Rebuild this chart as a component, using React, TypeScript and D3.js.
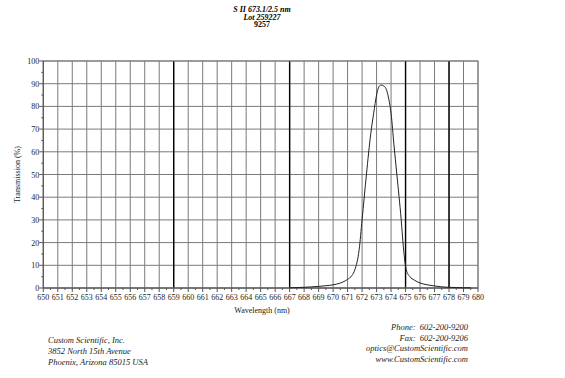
import React from "react";
import * as d3 from "d3";

const titleLines = ["S II 673.1/2.5 nm", "Lot 259227", "9257"];
const wavelengths = [667.0, 667.5, 668.0, 668.5, 669.0, 669.5, 670.0, 670.5, 671.0, 671.3, 671.5, 671.8, 672.0, 672.3, 672.6, 672.8, 673.0, 673.15, 673.3, 673.5, 673.7, 673.85, 674.0, 674.2, 674.4, 674.7, 674.85, 675.05, 675.3, 675.6, 676.0, 676.5, 677.0, 677.5, 678.0, 678.5, 679.0, 679.5];
const transmission = [0.1, 0.2, 0.3, 0.5, 0.7, 1.0, 1.4, 2.2, 3.8, 5.5, 8, 17, 30, 50, 68, 77, 85, 88.5, 89.4, 89, 87, 83, 77, 63, 50, 30, 18, 8, 5, 3.5, 2.2, 1.4, 0.9, 0.5, 0.3, 0.2, 0.1, 0.1];
const xTicks = d3.range(650, 681, 1);
const yTicks = d3.range(0, 101, 10);
const darkLines = [659, 667, 675, 678];
const footerLeft = ["Custom Scientific, Inc.", "3852 North 15th Avenue", "Phoenix, Arizona 85015 USA"];
const footerRight = ["Phone:  602-200-9200", "Fax:  602-200-9206", "optics@CustomScientific.com", "www.CustomScientific.com"];

export default function App() {
  const left = 43.3, right = 478, top = 61, bottom = 288;
  const x = d3.scaleLinear().domain([650, 680]).range([left, right]);
  const y = d3.scaleLinear().domain([0, 100]).range([bottom, top]);
  const pts = wavelengths.map((w, i) => [w, transmission[i]] as [number, number]);
  const line = d3.line<[number, number]>().x(d => x(d[0])).y(d => y(d[1])).curve(d3.curveMonotoneX);
  const font = "'Liberation Serif', 'Times New Roman', serif";
  const minorX = d3.range(650.5, 680, 1);
  const minorY = d3.range(5, 100, 10);
  return (
    <svg width={565} height={378} style={{ position: "absolute", left: 0, top: 0, background: "#fff" }} fontFamily={font}>
      <rect x={0} y={0} width={565} height={378} fill="#fff" />
      {titleLines.map((t, i) => (
        <text key={t} x={262} y={12 + i * 7.5} textAnchor="middle" fontSize={8} fontWeight="bold" fontStyle={i < 2 ? "italic" : "normal"}>{t}</text>
      ))}
      {xTicks.map(t => (
        <line key={"gx" + t} x1={x(t)} x2={x(t)} y1={top} y2={bottom} stroke="#7a7a7a" strokeWidth={1} />
      ))}
      {yTicks.map(t => (
        <line key={"gy" + t} x1={left} x2={right} y1={y(t)} y2={y(t)} stroke="#7a7a7a" strokeWidth={1} />
      ))}
      {darkLines.map(t => (
        <line key={"d" + t} x1={x(t)} x2={x(t)} y1={top} y2={bottom} stroke="#000" strokeWidth={1.4} />
      ))}
      <rect x={left} y={top} width={right - left} height={bottom - top} fill="none" stroke="#7a7a7a" />
      <line x1={left} x2={right} y1={bottom} y2={bottom} stroke="#555" />
      <line x1={left} x2={left} y1={top} y2={bottom} stroke="#555" />
      {xTicks.map(t => (
        <line key={"tx" + t} x1={x(t)} x2={x(t)} y1={bottom} y2={bottom + 4} stroke="#555" />
      ))}
      {minorX.map(t => (
        <line key={"mx" + t} x1={x(t)} x2={x(t)} y1={bottom} y2={bottom + 2} stroke="#555" />
      ))}
      {yTicks.map(t => (
        <line key={"ty" + t} x1={left - 4} x2={left} y1={y(t)} y2={y(t)} stroke="#555" />
      ))}
      {minorY.map(t => (
        <line key={"my" + t} x1={left - 2} x2={left} y1={y(t)} y2={y(t)} stroke="#555" />
      ))}
      <path d={line(pts) || ""} fill="none" stroke="#222" strokeWidth={1} />
      {xTicks.map(t => (
        <text key={"lx" + t} x={x(t)} y={bottom + 12} textAnchor="middle" fontSize={8} fill="#222">{t}</text>
      ))}
      {yTicks.map(t => (
        <text key={"ly" + t} x={left - 4} y={y(t) + 3} textAnchor="end" fontSize={8} fill="#222">{t}</text>
      ))}
      <text x={262} y={313} textAnchor="middle" fontSize={8} fill="#222">Wavelength (nm)</text>
      <text transform={`translate(20,${(top + bottom) / 2}) rotate(-90)`} textAnchor="middle" fontSize={8} fill="#222">Transmission (%)</text>
      {footerLeft.map((t, i) => (
        <text key={t} x={48} y={343 + i * 11} fontSize={8.5} fontStyle="italic" fill="#222">{t}</text>
      ))}
      {footerRight.map((t, i) => (
        <text key={t} x={468} y={330 + i * 10.7} textAnchor="end" fontSize={8.5} fontStyle="italic" fill="#222" style={{ whiteSpace: "pre" }}>{t}</text>
      ))}
    </svg>
  );
}
